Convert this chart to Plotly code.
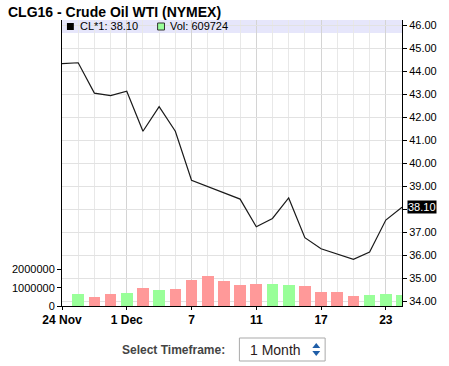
import plotly.graph_objects as go

# ---- data ----
dates = ["24 Nov", "25 Nov", "27 Nov", "30 Nov", "1 Dec", "2 Dec", "3 Dec", "4 Dec",
         "7 Dec", "8 Dec", "9 Dec", "10 Dec", "11 Dec", "14 Dec", "15 Dec", "16 Dec",
         "17 Dec", "18 Dec", "21 Dec", "22 Dec", "23 Dec", "24 Dec"]
price = [44.34, 44.38, 43.06, 42.95, 43.14, 41.40, 42.47, 41.40, 39.27, 39.00, 38.72,
         38.45, 37.25, 37.61, 38.50, 36.77, 36.29, 36.06, 35.83, 36.15, 37.54, 38.10]
volume = [None, 640000, 470000, 640000, 690000, 960000, 850000, 910000, 1400000,
          1670000, 1350000, 1130000, 1180000, 1180000, 1130000, 1070000, 750000,
          750000, 530000, 580000, 640000, 609724]
x_tick_dates = ["24 Nov", "1 Dec", "7 Dec", "11 Dec", "17 Dec", "23 Dec"]
x_tick_labels = ["24 Nov", "1 Dec", "7", "11", "17", "23"]
price_ticks = list(range(34, 47))
vol_ticks = [0, 1000000, 2000000]
vol_tick_labels = ["0", "1000000", "2000000"]
last_price = "38.10"
last_vol = "609724"

UP, DOWN = "#99ff99", "#ff9999"

idx = list(range(len(dates)))
bar_colors = [UP] + [UP if price[i] >= price[i - 1] else DOWN for i in range(1, len(price))]

W, H = 449, 366
L, R, T, B = 57, 47, 20, 60
PW, PH = W - L - R, H - T - B


def px(x):
    return (x - L) / PW


def py(y):
    return (H - B - y) / PH


FONT = "Liberation Sans, Arial, sans-serif"

fig = go.Figure()
fig.add_trace(go.Bar(x=idx, y=volume, marker=dict(color=bar_colors, line=dict(width=0)),
                     width=0.72, yaxis="y", showlegend=False, hoverinfo="skip"))
fig.add_trace(go.Scatter(x=idx, y=price, mode="lines", line=dict(color="#1a1a1a", width=1.2),
                         yaxis="y2", showlegend=False))

tickpos = [dates.index(d) for d in x_tick_dates]
price_text = ["" if v == 38 else f"{v:.2f}" for v in price_ticks]

fig.update_layout(
    width=W, height=H,
    margin=dict(l=L, r=R, t=T, b=B, pad=0),
    paper_bgcolor="white", plot_bgcolor="white",
    font=dict(family=FONT, size=11, color="black"),
    bargap=0,
    title=dict(text="<b>CLG16 - Crude Oil WTI (NYMEX)</b>", x=8 / W, xref="container",
               xanchor="left", y=1 - 12 / H, yref="container", yanchor="middle",
               font=dict(family=FONT, size=14, color="black")),
    xaxis=dict(range=[0, len(dates) - 1], tickvals=tickpos, ticktext=x_tick_labels,
               showgrid=True, gridcolor="#d4d4d4", gridwidth=1,
               minor=dict(dtick=1, showgrid=True, gridcolor="#e8e8e8", gridwidth=1),
               showline=True, linecolor="black", linewidth=1,
               ticks="outside", ticklen=3, tickcolor="black",
               tickfont=dict(family=FONT, size=12, color="black", weight="bold"),
               zeroline=False, fixedrange=True),
    yaxis=dict(side="left", range=[0, 286 / 18.25e-6], tickvals=vol_ticks,
               ticktext=vol_tick_labels, showgrid=False, zeroline=False,
               showline=True, linecolor="black", linewidth=1,
               ticks="outside", ticklen=4, tickcolor="black",
               tickfont=dict(family=FONT, size=11, color="black")),
    yaxis2=dict(side="right", overlaying="y", range=[33.80, 46.24], tickvals=price_ticks,
                ticktext=price_text, showgrid=True, gridcolor="#e2e2e2", gridwidth=1,
                zeroline=False, showline=True, linecolor="black", linewidth=1,
                ticks="outside", ticklen=4, tickcolor="black",
                tickfont=dict(family=FONT, size=11, color="black")),
)

shapes = [
    # legend band
    dict(type="rect", xref="paper", yref="paper", x0=0, x1=1, y0=py(33), y1=1,
         fillcolor="rgba(222,222,250,0.75)", line=dict(width=0), layer="between"),
    # legend swatches
    dict(type="rect", xref="paper", yref="paper", x0=px(62), x1=px(69), y0=py(30), y1=py(23),
         fillcolor="black", line=dict(width=0), layer="above"),
    dict(type="rect", xref="paper", yref="paper", x0=px(154), x1=px(161), y0=py(30), y1=py(23),
         fillcolor=UP, line=dict(color="#333333", width=1), layer="above"),
    # select box
    dict(type="rect", xref="paper", yref="paper", x0=px(237), x1=px(324), y0=py(361), y1=py(338),
         fillcolor="white", line=dict(color="#a9a9a9", width=1), layer="above"),
    dict(type="path", xref="paper", yref="paper",
         path=f"M {px(311)} {py(348)} L {px(319)} {py(348)} L {px(315)} {py(343)} Z",
         fillcolor="#1f5ea8", line=dict(width=0), layer="above"),
    dict(type="path", xref="paper", yref="paper",
         path=f"M {px(311)} {py(351)} L {px(319)} {py(351)} L {px(315)} {py(356)} Z",
         fillcolor="#1f5ea8", line=dict(width=0), layer="above"),
]
fig.update_layout(shapes=shapes)

ann = [
    dict(text=f"CL*1: {last_price}", xref="paper", yref="paper", x=px(73), y=py(26.5),
         xanchor="left", yanchor="middle", showarrow=False,
         font=dict(family=FONT, size=11, color="black")),
    dict(text=f"Vol: {last_vol}", xref="paper", yref="paper", x=px(165), y=py(26.5),
         xanchor="left", yanchor="middle", showarrow=False,
         font=dict(family=FONT, size=11, color="black")),
    dict(text=last_price, xref="paper", yref="y2", x=1, y=float(last_price),
         xanchor="left", yanchor="middle", xshift=5, showarrow=False,
         bgcolor="black", borderpad=0,
         font=dict(family=FONT, size=11, color="white")),
    dict(text="<b>Select Timeframe:</b>", xref="paper", yref="paper", x=px(224), y=py(350),
         xanchor="right", yanchor="middle", showarrow=False,
         font=dict(family=FONT, size=12, color="#444444")),
    dict(text="1 Month", xref="paper", yref="paper", x=px(246), y=py(350),
         xanchor="left", yanchor="middle", showarrow=False,
         font=dict(family=FONT, size=14, color="#2a1a1a")),
]
fig.update_layout(annotations=ann)

fig.write_html(
    "out.html",
    config={"displayModeBar": False},
    post_script="document.body.style.margin='0';document.body.style.padding='0';"
                "document.body.style.overflow='hidden';",
)
